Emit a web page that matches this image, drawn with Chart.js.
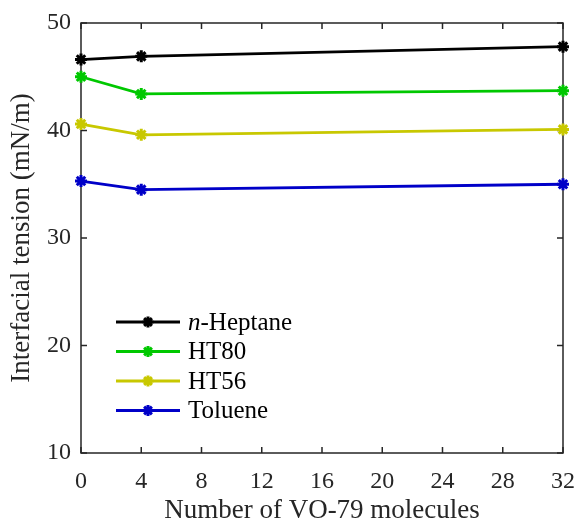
<!DOCTYPE html>
<html>
<head>
<meta charset="utf-8">
<script src="https://cdn.jsdelivr.net/npm/chart.js@4/dist/chart.umd.min.js"></script>
<style>
    html, body { margin: 0; padding: 0; background: #fff; }
    #wrap { width: 579px; height: 524px; }
</style>
</head>
<body>
<div id="wrap"><canvas id="chart" width="579" height="524"></canvas></div>
<script>
// Interfacial tension vs number of VO-79 molecules

const molecules = [0, 4, 32];
const heptane = [46.6, 46.9, 47.8];
const ht80 = [45.0, 43.4, 43.7];
const ht56 = [40.6, 39.6, 40.1];
const toluene = [35.3, 34.5, 35.0];

const seriesNames = ['n-Heptane', 'HT80', 'HT56', 'Toluene'];
const seriesColors = ['#000000', '#00c800', '#c8c800', '#0000c8'];
const seriesValues = [heptane, ht80, ht56, toluene];

const xTicks = [0, 4, 8, 12, 16, 20, 24, 28, 32];
const yTicks = [10, 20, 30, 40, 50];

const AXIS_COLOR = '#262626';
const FONT = '"Liberation Serif", "Times New Roman", serif';

function toPoints(values) {
    return molecules.map((m, i) => ({ x: m, y: values[i] }));
}

function drawStar(ctx, x, y, r) {
    ctx.beginPath();
    ctx.moveTo(x - r, y); ctx.lineTo(x + r, y);
    ctx.moveTo(x, y - r); ctx.lineTo(x, y + r);
    const d = r * Math.SQRT1_2;
    ctx.moveTo(x - d, y - d); ctx.lineTo(x + d, y + d);
    ctx.moveTo(x - d, y + d); ctx.lineTo(x + d, y - d);
    ctx.stroke();
}

// box around the plot with inward ticks (MATLAB style)
const framePlugin = {
    id: 'frame',
    beforeDatasetsDraw(chart) {
        const { ctx, chartArea: a, scales: { x, y } } = chart;
        const len = 6;
        ctx.save();
        ctx.strokeStyle = AXIS_COLOR;
        ctx.lineWidth = 1.5;
        ctx.beginPath();
        xTicks.forEach(v => {
            const px = x.getPixelForValue(v);
            ctx.moveTo(px, a.bottom); ctx.lineTo(px, a.bottom - len);
            ctx.moveTo(px, a.top); ctx.lineTo(px, a.top + len);
        });
        yTicks.forEach(v => {
            const py = y.getPixelForValue(v);
            ctx.moveTo(a.left, py); ctx.lineTo(a.left + len, py);
            ctx.moveTo(a.right, py); ctx.lineTo(a.right - len, py);
        });
        ctx.stroke();
        ctx.strokeRect(a.left, a.top, a.right - a.left, a.bottom - a.top);
        ctx.restore();
    }
};

// legend inside the axes, lower left
const legendPlugin = {
    id: 'boxLegend',
    afterDatasetsDraw(chart) {
        const { ctx, chartArea: a } = chart;
        const x0 = a.left + 35;
        const x1 = a.left + 99;
        const tx = a.left + 107;
        let ty = a.top + 299;
        ctx.save();
        chart.data.datasets.forEach(ds => {
            ctx.strokeStyle = ds.borderColor;
            ctx.lineWidth = 3;
            ctx.beginPath();
            ctx.moveTo(x0, ty); ctx.lineTo(x1, ty);
            ctx.stroke();
            ctx.lineWidth = 3;
            drawStar(ctx, (x0 + x1) / 2, ty, 5.5);

            ctx.fillStyle = '#000';
            ctx.textBaseline = 'middle';
            ctx.textAlign = 'left';
            let label = ds.label;
            let cx = tx;
            if (label.startsWith('n-')) {
                ctx.font = 'italic 25px ' + FONT;
                ctx.fillText('n', cx, ty + 1);
                cx += ctx.measureText('n').width;
                label = label.slice(1);
            }
            ctx.font = '25px ' + FONT;
            ctx.fillText(label, cx, ty + 1);
            ty += 29.5;
        });
        ctx.restore();
    }
};

new Chart(document.getElementById('chart'), {
    type: 'line',
    data: {
        datasets: seriesNames.map((name, i) => ({
            label: name,
            data: toPoints(seriesValues[i]),
            borderColor: seriesColors[i],
            backgroundColor: seriesColors[i],
            borderWidth: 2.8,
            pointStyle: 'star',
            pointRadius: 6,
            pointBorderWidth: 3,
            pointHoverRadius: 6,
            tension: 0,
            clip: false
        }))
    },
    options: {
        responsive: false,
        animation: false,
        events: [],
        layout: {
            padding: { top: 23, right: 16, left: 0, bottom: 0 }
        },
        plugins: {
            legend: { display: false },
            tooltip: { enabled: false }
        },
        scales: {
            x: {
                type: 'linear',
                min: 0,
                max: 32,
                afterFit: s => {
                    s.height = 71;
                    s.paddingLeft = 0;
                    s.paddingRight = 0;
                },
                afterBuildTicks: s => { s.ticks = xTicks.map(v => ({ value: v })); },
                grid: { display: false, drawTicks: false },
                border: { display: false },
                ticks: {
                    color: '#262626',
                    padding: 14,
                    maxRotation: 0,
                    font: { family: FONT, size: 24 }
                },
                title: {
                    display: true,
                    text: 'Number of VO-79 molecules',
                    color: '#262626',
                    padding: { top: 0, bottom: 0 },
                    font: { family: FONT, size: 27, lineHeight: 1.0 }
                }
            },
            y: {
                type: 'linear',
                min: 10,
                max: 50,
                afterFit: s => {
                    s.width = 81;
                    s.paddingTop = 0;
                    s.paddingBottom = 0;
                },
                afterBuildTicks: s => { s.ticks = yTicks.map(v => ({ value: v })); },
                grid: { display: false, drawTicks: false },
                border: { display: false },
                ticks: {
                    color: '#262626',
                    padding: 10,
                    font: { family: FONT, size: 24 }
                },
                title: {
                    display: true,
                    text: 'Interfacial tension (mN/m)',
                    color: '#262626',
                    padding: { top: 6, bottom: 0 },
                    font: { family: FONT, size: 27 }
                }
            }
        }
    },
    plugins: [framePlugin, legendPlugin]
});
</script>
</body>
</html>
